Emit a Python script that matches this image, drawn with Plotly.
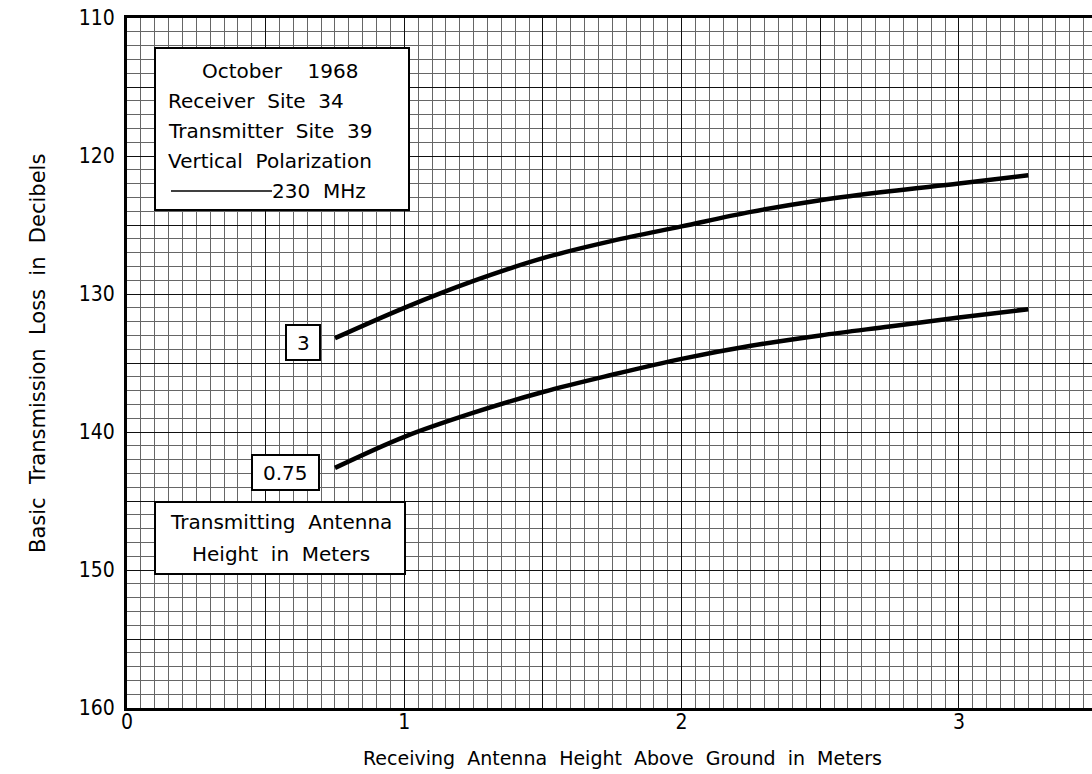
import numpy as np
import plotly.graph_objects as go

# ---------------- data ----------------
rx_height = [0.75, 1.0, 1.25, 1.5, 1.75, 2.0, 2.25, 2.5, 2.75, 3.0, 3.25]
loss_tx_3m = [133.2, 131.0, 129.05, 127.4, 126.15, 125.1, 124.05, 123.2, 122.55, 122.0, 121.4]
loss_tx_075m = [142.6, 140.35, 138.6, 137.1, 135.85, 134.7, 133.75, 133.0, 132.35, 131.7, 131.1]
series_labels = ["3", "0.75"]

x_tick_vals = [0, 0.5, 1, 1.5, 2, 2.5, 3, 3.5]
x_tick_text = ["0", "", "1", "", "2", "", "3", ""]
y_tick_vals = [110, 115, 120, 125, 130, 135, 140, 145, 150, 155, 160]
y_tick_text = ["110", "", "120", "", "130", "", "140", "", "150", "", "160"]

info_lines = ["October    1968", "Receiver  Site  34", "Transmitter  Site  39",
              "Vertical  Polarization"]
freq_label = "230  MHz"
antenna_note = ["Transmitting  Antenna", "Height  in  Meters"]
x_title = "Receiving  Antenna  Height  Above  Ground  in  Meters"
y_title = "Basic  Transmission  Loss  in  Decibels"

# ---------------- layout geometry ----------------
W, H = 1092, 774
L, R, T, B = 127, 0, 18, 66
PW, PH = W - L - R, H - T - B


def px(xp):
    return (xp - L) / PW


def py(yp):
    return (H - B - yp) / PH


FONT = "DejaVu Sans, Verdana, sans-serif"
TICKFONT = "Liberation Sans Narrow, DejaVu Sans Condensed, Arial Narrow, sans-serif"

fig = go.Figure()
for xs, ys in [(rx_height, loss_tx_3m), (rx_height, loss_tx_075m)]:
    fig.add_trace(go.Scatter(x=xs, y=ys, mode="lines",
                             line=dict(color="black", width=4.5, shape="spline", smoothing=1.0),
                             showlegend=False, hoverinfo="skip"))

shapes = []
annotations = []

# info box
shapes.append(dict(type="rect", xref="paper", yref="paper",
                   x0=px(155), x1=px(409), y0=py(210), y1=py(48),
                   line=dict(color="black", width=2), fillcolor="white", layer="above"))
annotations.append(dict(xref="paper", yref="paper", x=px(280), y=py(71), text=info_lines[0],
                        showarrow=False, xanchor="center", yanchor="middle",
                        font=dict(family=FONT, size=20, color="black")))
for i, t in enumerate(info_lines[1:]):
    annotations.append(dict(xref="paper", yref="paper", x=px(166), y=py(101 + 30 * i), text=t,
                            showarrow=False, xanchor="left", yanchor="middle",
                            font=dict(family=FONT, size=20, color="black")))
shapes.append(dict(type="line", xref="paper", yref="paper",
                   x0=px(171), x1=px(272), y0=py(191), y1=py(191),
                   line=dict(color="black", width=1.5), layer="above"))
annotations.append(dict(xref="paper", yref="paper", x=px(270), y=py(191), text=freq_label,
                        showarrow=False, xanchor="left", yanchor="middle",
                        font=dict(family=FONT, size=20, color="black")))

# antenna note box
shapes.append(dict(type="rect", xref="paper", yref="paper",
                   x0=px(155), x1=px(405), y0=py(574), y1=py(502),
                   line=dict(color="black", width=2), fillcolor="white", layer="above"))
for i, t in enumerate(antenna_note):
    annotations.append(dict(xref="paper", yref="paper", x=px(281), y=py(522 + 32 * i), text=t,
                            showarrow=False, xanchor="center", yanchor="middle",
                            font=dict(family=FONT, size=20, color="black")))

# curve labels
for lab, (bx0, bx1, by0, by1) in [(series_labels[0], (286, 320, 325, 360)),
                                   (series_labels[1], (252, 319, 455, 490))]:
    shapes.append(dict(type="rect", xref="paper", yref="paper",
                       x0=px(bx0), x1=px(bx1), y0=py(by1), y1=py(by0),
                       line=dict(color="black", width=2), fillcolor="white", layer="above"))
    annotations.append(dict(xref="paper", yref="paper", x=px((bx0 + bx1) / 2), y=py((by0 + by1) / 2),
                            text=lab, showarrow=False, xanchor="center", yanchor="middle",
                            font=dict(family=FONT, size=20, color="black")))

# axis titles
annotations.append(dict(xref="paper", yref="paper", x=px(622), y=py(758), text=x_title,
                        showarrow=False, xanchor="center", yanchor="middle",
                        font=dict(family=FONT, size=19, color="black")))
annotations.append(dict(xref="paper", yref="paper", x=px(38), y=py(354), text=y_title,
                        showarrow=False, xanchor="center", yanchor="middle", textangle=-90,
                        font=dict(family=FONT, size=21, color="black")))

fig.update_layout(
    width=W, height=H,
    margin=dict(l=L, r=R, t=T, b=B),
    paper_bgcolor="white", plot_bgcolor="white",
    shapes=shapes, annotations=annotations,
    xaxis=dict(range=[0, 3.48], tickvals=x_tick_vals, ticktext=x_tick_text,
               showgrid=True, gridcolor="#111", gridwidth=1.4,
               minor=dict(dtick=0.05, tick0=0, showgrid=True, gridcolor="#666", gridwidth=1),
               showline=True, linecolor="black", linewidth=3, mirror=True,
               ticks="", ticklabelstandoff=-7, zeroline=False,
               tickfont=dict(family=TICKFONT, size=21, color="black")),
    yaxis=dict(range=[160, 110], tickvals=y_tick_vals, ticktext=y_tick_text,
               showgrid=True, gridcolor="#111", gridwidth=1.4,
               minor=dict(dtick=1, tick0=110, showgrid=True, gridcolor="#666", gridwidth=1),
               showline=True, linecolor="black", linewidth=3,
               ticks="", ticklabelstandoff=5, zeroline=False,
               tickfont=dict(family=TICKFONT, size=21, color="black")),
)

fig.write_html("out.html", post_script="document.body.style.margin='0px';",
               config={"displayModeBar": False})
